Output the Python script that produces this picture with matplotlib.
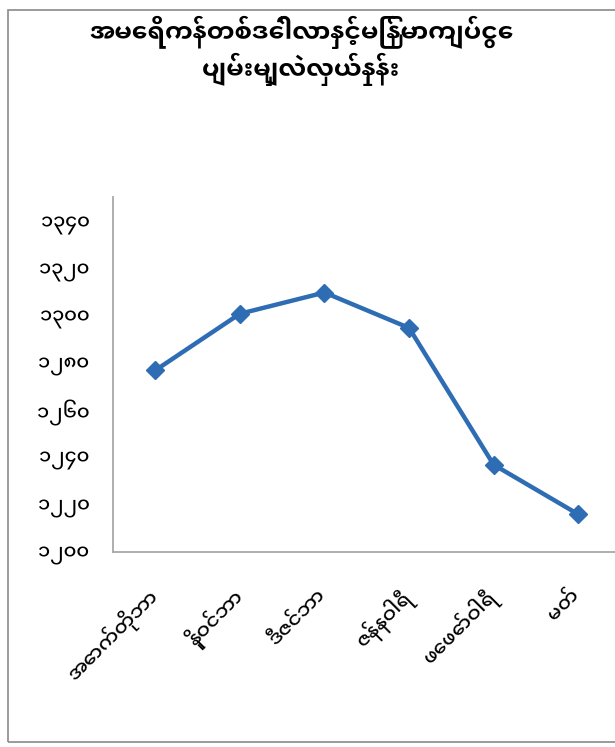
import matplotlib
matplotlib.use("Agg")
import matplotlib.pyplot as plt
from matplotlib.patches import Rectangle

plt.rcParams["font.family"] = ["Noto Sans Myanmar UI", "Noto Sans Myanmar", "DejaVu Sans"]

# data
months = ["အောက်တိုဘာ", "နိုဝင်ဘာ", "ဒီဇင်ဘာ", "ဇန်နဝါရီ", "ဖေဖော်ဝါရီ", "မတ်"]
rates = [1277, 1301, 1310, 1295, 1237, 1216]
y_ticks = [1200, 1220, 1240, 1260, 1280, 1300, 1320, 1340]
y_labels = ["၁၂၀၀", "၁၂၂၀", "၁၂၄၀", "၁၂၆၀", "၁၂၈၀", "၁၃၀၀", "၁၃၂၀", "၁၃၄၀"]
title = "အမေရိကန်တစ်ဒေါ်လာနှင့်မြန်မာကျပ်ငွေ\nပျမ်းမျှလဲလှယ်နှုန်း"

W, H = 615, 747
fig = plt.figure(figsize=(W / 100, H / 100), dpi=100)
fig.patch.set_facecolor("white")

# outer chart border (right edge is cropped off in the reference)
fig.patches.append(Rectangle((8 / W, 1 - 742 / H), 1.0, (742 - 10) / H,
                             transform=fig.transFigure, fill=False,
                             edgecolor="#8a8a8a", linewidth=1.2))

ax = fig.add_axes([113 / W, 1 - 552 / H, 507.5 / W, (552 - 197) / H])
x = range(len(months))
ax.plot(x, rates, color="#2e6db4", linewidth=3.2, marker="D",
        markersize=9, markerfacecolor="#2e6db4", markeredgecolor="#2e6db4")

ax.set_xlim(-0.5, len(months) - 0.5)
ax.set_ylim(1200, 1350.5)
ax.set_yticks(y_ticks)
ax.set_yticklabels(y_labels, fontsize=14, fontweight="medium")
ax.set_xticks(list(x))
ax.set_xticklabels(months, fontsize=14.5, fontweight="medium", rotation=45,
                   ha="right", va="center", rotation_mode="anchor")
ax.tick_params(axis="y", length=0, pad=17)
ax.tick_params(axis="x", length=0, pad=30)

for side in ["top", "right"]:
    ax.spines[side].set_visible(False)
for side in ["left", "bottom"]:
    ax.spines[side].set_color("#a8a8a8")
    ax.spines[side].set_linewidth(1.3)

fig.text(0.49, 1 - 51 / H, title, ha="center", va="center",
         fontsize=18, fontweight="bold", linespacing=1.15)

fig.savefig("out.png", dpi=100)
plt.close(fig)
